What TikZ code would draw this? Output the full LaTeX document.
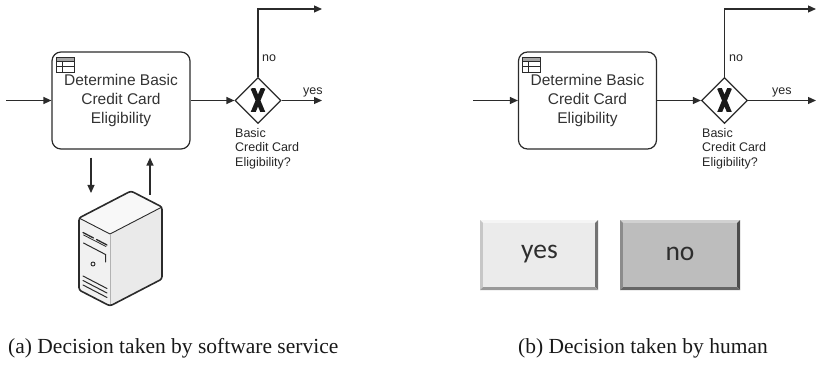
\documentclass[tikz,border=0pt]{standalone}
\usepackage{fontspec}
\setmainfont{Liberation Serif}
\setsansfont{Liberation Sans}
\newfontfamily\btnfont{Carlito}
\usetikzlibrary{shapes.geometric,arrows.meta}

\definecolor{ink}{HTML}{2B2B2B}
\definecolor{srvtop}{HTML}{F8F8F8}
\definecolor{srvfront}{HTML}{F1F1F1}
\definecolor{srvside}{HTML}{EAEAEA}

\begin{document}
\begin{tikzpicture}[x=1pt,y=-1pt,
  line/.style={draw=ink, line width=1.2pt},
  flow/.style={line, -{Triangle[length=8pt,width=7pt]}},
  task/.style={draw=ink, line width=1.2pt, rounded corners=9pt,
    minimum width=138pt, minimum height=97pt, inner sep=0pt, align=center,
    font=\sffamily\fontsize{15.5}{19}\selectfont, text=black!80},
  gateway/.style={draw=ink, line width=1.2pt, diamond, minimum width=46pt,
    minimum height=46pt, inner sep=0pt, fill=white},
  flowlabel/.style={inner sep=0pt, text=black!85, align=left,
    font=\sffamily\fontsize{12.5}{14.7}\selectfont},
  caption/.style={inner sep=0pt, anchor=base west, text=black!90,
    font=\fontsize{21.5}{24}\selectfont},
  btntext/.style={inner sep=0pt, text=black!82,
    font=\btnfont\fontsize{27.5}{28}\selectfont},
  tableicon/.pic={
    \fill[black!35] (0,0) rectangle (18,4.5);
    \draw[ink, line width=0.8pt] (0,0) rectangle (18,15)
      (0,4.5) -- (18,4.5) (0,9.7) -- (18,9.7) (6,4.5) -- (6,15);
  },
  % heavy exclusive-gateway cross, clipped flat at top and bottom
  xmark/.pic={
    \begin{scope}
      \clip (-9,-11.5) rectangle (9,11.5);
      \draw[black!90, line width=4.6pt] (-5.2,-12.5) -- (5.2,12.5)
                                        (5.2,-12.5) -- (-5.2,12.5);
    \end{scope}
  },
]
\useasboundingbox (0,0) rectangle (816,366);

% ---------- left: decision by a software service ----------
\node[task] (taskA) at (121,100.5) {Determine Basic\\Credit Card\\Eligibility};
\pic at (56,57) {tableicon};
\node[gateway] (gwA) at (258,100.5) {};
\pic at (gwA.center) {xmark};
\coordinate (inA) at (6,100.5);
\coordinate (noA) at (322,9);
\coordinate (yesA) at (322,100.5);
\draw[flow] (inA) -- (taskA.west);
\draw[flow] (taskA.east) -- (gwA.west);
\draw[flow] (gwA.north) |- (noA);
\draw[flow] (gwA.east) -- (yesA);
\node[flowlabel, anchor=south west] (noLblA) at (262,62) {no};
\node[flowlabel, anchor=south west] (yesLblA) at (303,97.5) {yes};
\node[flowlabel, anchor=north west] (qA) at (235,128) {Basic\\Credit Card\\Eligibility?};

% server tower
\coordinate (srvL) at (79,218);
\coordinate (srvT) at (131,191);
\coordinate (srvR) at (162,207);
\coordinate (srvF) at (110,234);
\coordinate (srvLB) at (79,290);
\coordinate (srvFB) at (110,306);
\coordinate (srvRB) at (162,279);
\fill[srvtop] (srvL) -- (srvT) -- (srvR) -- (srvF) -- cycle;
\fill[srvfront] (srvL) -- (srvF) -- (srvFB) -- (srvLB) -- cycle;
\fill[srvside] (srvF) -- (srvR) -- (srvRB) -- (srvFB) -- cycle;
\draw[ink, line width=0.9pt, line join=round] (srvL) -- (srvF) -- (srvR);
\draw[black!30, line width=0.6pt] (srvF) -- (srvFB);
\draw[ink, line width=1.6pt, line join=round, rounded corners=2.5pt]
  (srvL) -- (srvT) -- (srvR) -- (srvRB) -- (srvFB) -- (srvLB) -- cycle;
% front panel details
\begin{scope}[ink, line cap=round]
  \draw[line width=1.3pt] (83,232.5) -- (93.5,238) (96.5,239.5) -- (107,245);
  \draw[line width=0.8pt] (83.5,235) -- (106,246.5);
  \draw[line width=1pt] (83.5,243) -- (105.5,254.5) -- (105.5,262);
  \draw[line width=0.9pt] (93,264) circle (2pt);
  \draw[line width=1pt] (83,276) -- (107,288.5)
                        (83,280.5) -- (107,293)
                        (83,285) -- (107,297.5);
\end{scope}
\coordinate (srvIn) at (91,193);
\coordinate (srvOut) at (150,195);
\draw[flow, shorten <=8pt] (taskA.south -| srvIn) -- (srvIn);
\draw[flow, shorten >=8pt] (srvOut) -- (taskA.south -| srvOut);

% ---------- right: decision by a human ----------
\node[task] (taskB) at (587.5,100.5) {Determine Basic\\Credit Card\\Eligibility};
\pic at (522,57) {tableicon};
\node[gateway] (gwB) at (724.5,100.5) {};
\pic at (gwB.center) {xmark};
\coordinate (inB) at (473,100.5);
\coordinate (noB) at (816,9);
\coordinate (yesB) at (816,100.5);
\draw[flow] (inB) -- (taskB.west);
\draw[flow] (taskB.east) -- (gwB.west);
\draw[flow] (gwB.north) |- (noB);
\draw[flow] (gwB.east) -- (yesB);
\node[flowlabel, anchor=south west] (noLblB) at (729,62) {no};
\node[flowlabel, anchor=south west] (yesLblB) at (772,97.5) {yes};
\node[flowlabel, anchor=north west] (qB) at (702,128) {Basic\\Credit Card\\Eligibility?};

% bevelled buttons
\fill[black!4] (480,220) -- (598,220) -- (595,223) -- (483,223) -- cycle;
\fill[black!22] (480,220) -- (483,223) -- (483,287) -- (480,290) -- cycle;
\fill[black!55] (598,220) -- (598,290) -- (595,287) -- (595,223) -- cycle;
\fill[black!40] (480,290) -- (598,290) -- (595,287) -- (483,287) -- cycle;
\fill[black!8] (483,223) rectangle (595,287);
\node[btntext] (yesBtn) at (539.5,254) {yes};

\fill[black!18] (620,220) -- (740,220) -- (737,223) -- (623,223) -- cycle;
\fill[black!45] (620,220) -- (623,223) -- (623,287) -- (620,290) -- cycle;
\fill[black!70] (740,220) -- (740,290) -- (737,287) -- (737,223) -- cycle;
\fill[black!60] (620,290) -- (740,290) -- (737,287) -- (623,287) -- cycle;
\fill[black!26] (623,223) rectangle (737,287);
\node[btntext] (noBtn) at (680,254) {no};

% ---------- captions ----------
\node[caption] (capA) at (8,353) {(a) Decision taken by software service};
\node[caption] (capB) at (518,353) {(b) Decision taken by human};
\end{tikzpicture}
\end{document}
